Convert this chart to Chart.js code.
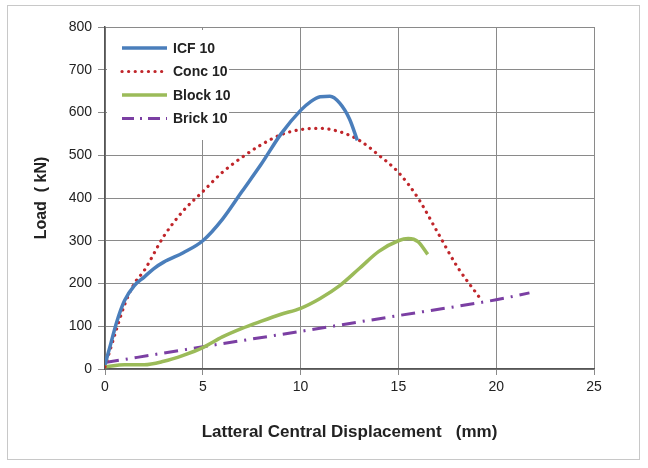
<!DOCTYPE html>
<html>
<head>
<meta charset="utf-8">
<script src="https://cdn.jsdelivr.net/npm/chart.js@4/dist/chart.umd.min.js"></script>
<style>
  html, body { margin: 0; padding: 0; background: #fff; }
  #wrap { position: relative; width: 648px; height: 468px; }
  #frame { position: absolute; left: 7px; top: 5px; width: 633px; height: 455px; border: 1px solid #c8c8c8; box-sizing: border-box; }
  canvas { position: absolute; left: 0; top: 0; }
</style>
</head>
<body>
<div id="wrap">
  <div id="frame"></div>
  <canvas id="chart" width="648" height="468"></canvas>
</div>
<script>
// displacement (mm) and load (kN)
const icfX = [0, 0.3, 0.6, 1, 1.5, 2, 2.5, 3, 4, 5, 6, 7, 8, 9, 10, 10.5, 11, 11.5, 12, 12.5, 12.9];
const icfY = [10, 60, 110, 160, 195, 215, 235, 250, 272, 300, 350, 415, 480, 550, 605, 625, 637, 638, 622, 585, 535];

const concX = [0, 0.5, 1, 1.5, 2, 3, 4, 5, 6, 7, 8, 9, 10, 11, 12, 13, 14, 15, 16, 17, 18, 19.1];
const concY = [5, 80, 150, 200, 230, 310, 370, 415, 460, 495, 525, 548, 560, 563, 555, 535, 500, 460, 400, 320, 240, 170];

const blockX = [0, 1, 2, 3, 4, 5, 6, 7, 8, 9, 10, 11, 12, 13, 14, 15, 15.5, 16, 16.5];
const blockY = [5, 10, 10, 18, 32, 50, 75, 95, 112, 128, 142, 165, 195, 235, 275, 300, 305, 298, 268];

const brickX = [0, 5, 10, 15, 20, 21.7];
const brickY = [15, 52, 88, 125, 162, 178];

const seriesNames = ['ICF 10', 'Conc 10', 'Block 10', 'Brick 10'];
const xTicks = [0, 5, 10, 15, 20, 25];
const yTicks = [0, 100, 200, 300, 400, 500, 600, 700, 800];

function pts(xs, ys) {
  return xs.map((x, i) => ({ x: x, y: ys[i] }));
}

const styles = [
  { borderColor: '#4a7ebb', borderWidth: 3.5, borderDash: [] },
  { borderColor: '#c0262b', borderWidth: 3.2, borderDash: [0.1, 6.5], borderCapStyle: 'round' },
  { borderColor: '#9bbb59', borderWidth: 3.5, borderDash: [] },
  { borderColor: '#7b3fa3', borderWidth: 3, borderDash: [14, 7, 2, 7] }
];

const allData = [pts(icfX, icfY), pts(concX, concY), pts(blockX, blockY), pts(brickX, brickY)];

const datasets = allData.map((d, i) => Object.assign({
  label: seriesNames[i],
  data: d,
  pointRadius: 0,
  fill: false,
  tension: 0.4,
  cubicInterpolationMode: 'monotone'
}, styles[i]));

// legend drawn inside the plot, on a white box over the grid
const insideLegend = {
  id: 'insideLegend',
  beforeDatasetsDraw(chart) {
    const ctx = chart.ctx;
    const area = chart.chartArea;
    ctx.save();
    ctx.fillStyle = '#fff';
    ctx.fillRect(area.left + 2, area.top + 3, 122, 110);
    ctx.font = 'bold 14px "Liberation Sans", Arial, sans-serif';
    ctx.textBaseline = 'middle';
    seriesNames.forEach((name, i) => {
      const y = area.top + 21 + i * 23.5;
      const s = styles[i];
      ctx.strokeStyle = s.borderColor;
      ctx.lineWidth = s.borderWidth;
      ctx.lineCap = s.borderCapStyle || 'butt';
      ctx.setLineDash(i === 3 ? [12, 6, 2, 6] : s.borderDash);
      ctx.beginPath();
      ctx.moveTo(area.left + 17, y);
      ctx.lineTo(area.left + 62, y);
      ctx.stroke();
      ctx.fillStyle = '#222';
      ctx.fillText(name, area.left + 68, y + 1);
    });
    ctx.restore();
  }
};

new Chart(document.getElementById('chart').getContext('2d'), {
  type: 'line',
  data: { datasets: datasets },
  options: {
    responsive: false,
    animation: false,
    layout: { padding: { left: 28, top: 27, right: 54, bottom: 21 } },
    plugins: {
      legend: { display: false },
      tooltip: { enabled: false }
    },
    scales: {
      x: {
        type: 'linear',
        min: 0,
        max: 25,
        afterBuildTicks: (scale) => { scale.ticks = xTicks.map(v => ({ value: v })); },
        afterFit: (scale) => { scale.height = 78; },
        grid: { color: '#8a8a8a', lineWidth: 1, tickLength: 6, drawTicks: true },
        border: { color: '#555', width: 1.5 },
        ticks: { color: '#222', font: { size: 14, family: '"Liberation Sans", Arial, sans-serif' }, padding: 4 },
        title: {
          display: true,
          text: 'Latteral Central Displacement   (mm)',
          color: '#222',
          font: { size: 17, weight: 'bold', family: '"Liberation Sans", Arial, sans-serif' },
          padding: { top: 12 }
        }
      },
      y: {
        type: 'linear',
        min: 0,
        max: 800,
        afterBuildTicks: (scale) => { scale.ticks = yTicks.map(v => ({ value: v })); },
        afterFit: (scale) => { scale.width = 77; },
        grid: { color: '#8a8a8a', lineWidth: 1, tickLength: 7 },
        border: { color: '#555', width: 1.5 },
        ticks: { color: '#222', font: { size: 14, family: '"Liberation Sans", Arial, sans-serif' }, padding: 6 },
        title: {
          display: true,
          text: 'Load  ( kN)',
          color: '#222',
          font: { size: 16, weight: 'bold', family: '"Liberation Sans", Arial, sans-serif' },
          padding: { bottom: 4 }
        }
      }
    }
  },
  plugins: [insideLegend]
});
</script>
</body>
</html>
